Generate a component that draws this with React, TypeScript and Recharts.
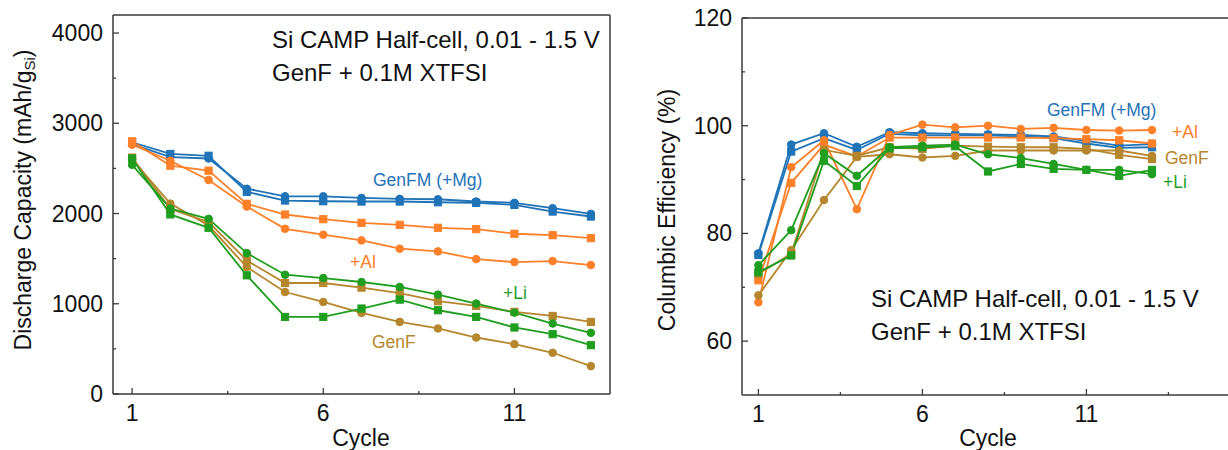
import { LineChart, Line, XAxis, YAxis, ReferenceLine } from 'recharts';

const cycles = [1, 2, 3, 4, 5, 6, 7, 8, 9, 10, 11, 12, 13];

// discharge capacity, mAh/g Si
const capMgCircle = [2770, 2625, 2610, 2275, 2191, 2191, 2173, 2162, 2158, 2133, 2118, 2059, 1996];
const capMgSquare = [2790, 2660, 2640, 2240, 2144, 2136, 2133, 2133, 2125, 2118, 2096, 2022, 1967];
const capAlCircle = [2762, 2585, 2372, 2077, 1831, 1765, 1702, 1610, 1580, 1495, 1462, 1473, 1429];
const capAlSquare = [2800, 2530, 2475, 2107, 1989, 1937, 1897, 1875, 1842, 1827, 1776, 1760, 1727];
const capLiCircle = [2540, 2055, 1941, 1561, 1322, 1285, 1241, 1186, 1101, 1002, 902, 781, 678];
const capLiSquare = [2610, 1990, 1842, 1315, 854, 854, 947, 1046, 928, 854, 737, 663, 541];
const capGenFCircle = [2600, 2110, 1867, 1407, 1130, 1020, 898, 799, 726, 626, 552, 457, 309];
const capGenFSquare = [2620, 2050, 1905, 1480, 1230, 1230, 1179, 1119, 1028, 976, 910, 865, 799];

// columbic efficiency, %
const ceMgCircle = [76.3, 96.5, 98.6, 96.1, 98.8, 98.6, 98.5, 98.4, 98.3, 98.0, 97.2, 96.3, 96.6];
const ceMgSquare = [76.0, 95.2, 97.7, 95.5, 98.5, 98.2, 98.2, 98.2, 98.0, 97.7, 96.7, 95.9, 96.0];
const ceAlCircle = [67.2, 92.3, 97.3, 84.5, 98.3, 100.2, 99.7, 100.0, 99.4, 99.6, 99.2, 99.1, 99.2];
const ceAlSquare = [71.3, 89.4, 96.5, 94.3, 97.8, 97.8, 97.8, 97.8, 97.8, 97.7, 97.5, 97.3, 96.7];
const ceLiCircle = [74.1, 80.6, 94.9, 90.7, 96.0, 96.3, 96.5, 94.7, 94.0, 92.9, 91.8, 91.8, 91.0];
const ceLiSquare = [72.8, 75.9, 93.5, 88.8, 95.8, 96.0, 96.2, 91.5, 92.9, 92.0, 91.8, 90.7, 91.8];
const ceGenFCircle = [68.5, 76.9, 86.2, 94.2, 94.7, 94.1, 94.4, 95.4, 95.4, 95.4, 95.4, 95.4, 94.4];
const ceGenFSquare = [72.5, 76.2, 95.5, 94.4, 96.0, 95.7, 96.3, 96.1, 96.0, 96.0, 95.7, 94.6, 93.8];

const capXTicks = [1, 3.5, 6, 8.5, 11];
const ceXTicks = [1, 3.5, 6, 8.5, 11, 13.5];
const xMajor = [1, 6, 11];
const capYTicks = [0, 500, 1000, 1500, 2000, 2500, 3000, 3500, 4000];
const capYMajor = [0, 1000, 2000, 3000, 4000];
const ceYTicks = [60, 70, 80, 90, 100, 110, 120];
const ceYMajor = [60, 80, 100, 120];

const BLUE = '#1f73b7';
const ORANGE = '#ff8028';
const GREEN = '#1f9e1f';
const BROWN = '#b5862c';
const AXIS = '#3a3a3a';
const INK = '#111';
const FONT = '"Liberation Sans", Arial, sans-serif';

const series = [
  { key: 'mgC', color: BLUE, square: false },
  { key: 'mgS', color: BLUE, square: true },
  { key: 'alC', color: ORANGE, square: false },
  { key: 'alS', color: ORANGE, square: true },
  { key: 'genfC', color: BROWN, square: false },
  { key: 'genfS', color: BROWN, square: true },
  { key: 'liC', color: GREEN, square: false },
  { key: 'liS', color: GREEN, square: true },
];

const capData = cycles.map((cycle, i) => ({
  cycle,
  mgC: capMgCircle[i], mgS: capMgSquare[i],
  alC: capAlCircle[i], alS: capAlSquare[i],
  liC: capLiCircle[i], liS: capLiSquare[i],
  genfC: capGenFCircle[i], genfS: capGenFSquare[i],
}));

const ceData = cycles.map((cycle, i) => ({
  cycle,
  mgC: ceMgCircle[i], mgS: ceMgSquare[i],
  alC: ceAlCircle[i], alS: ceAlSquare[i],
  liC: ceLiCircle[i], liS: ceLiSquare[i],
  genfC: ceGenFCircle[i], genfS: ceGenFSquare[i],
}));

const squareDot = (color: string) => (p: any) => (
  <rect key={p.key ?? `sq-${p.index}`} x={p.cx - 3.6} y={p.cy - 3.6} width={7.2} height={7.2} fill={color} stroke={color} />
);

const xTick = (major: number[]) => (p: any) => {
  const isMajor = major.includes(p.payload.value);
  return (
    <g>
      <line x1={p.x} x2={p.x} y1={p.y} y2={p.y - (isMajor ? 6 : 3)} stroke={AXIS} strokeWidth={1.3} />
      {isMajor && (
        <text x={p.x} y={p.y + 19} textAnchor="middle" dominantBaseline="central" fontSize={23} fill={INK} fontFamily={FONT}>
          {p.payload.value}
        </text>
      )}
    </g>
  );
};

const yTick = (major: number[]) => (p: any) => {
  const isMajor = major.includes(p.payload.value);
  return (
    <g>
      <line x1={p.x} x2={p.x + (isMajor ? 6 : 3)} y1={p.y} y2={p.y} stroke={AXIS} strokeWidth={1.3} />
      {isMajor && (
        <text x={p.x - 10} y={p.y} textAnchor="end" dominantBaseline="central" fontSize={23} fill={INK} fontFamily={FONT}>
          {p.payload.value}
        </text>
      )}
    </g>
  );
};

function Lines() {
  return series.map((s) => (
    <Line
      key={s.key}
      dataKey={s.key}
      type="linear"
      stroke={s.color}
      strokeWidth={1.8}
      dot={s.square ? squareDot(s.color) : { r: 3.8, fill: s.color, stroke: s.color, strokeWidth: 1 }}
      activeDot={false}
      isAnimationActive={false}
    />
  ));
}

export default function App() {
  return (
    <div style={{ position: 'absolute', left: 0, top: 0, width: 1228, height: 450, overflow: 'hidden', background: '#fff', fontFamily: FONT }}>
      <div style={{ position: 'absolute', left: 0, top: 0 }}>
        <LineChart width={615} height={450} data={capData} margin={{ top: 15, right: 5, bottom: 26, left: 53 }}>
          <XAxis dataKey="cycle" type="number" domain={[0.5, 13.5]} ticks={capXTicks} interval={0} height={30}
            tickSize={0} tickMargin={0} tickLine={false} axisLine={{ stroke: AXIS, strokeWidth: 1.5 }} tick={xTick(xMajor)} />
          <YAxis type="number" domain={[0, 4200]} ticks={capYTicks} interval={0} width={60}
            tickSize={0} tickMargin={0} tickLine={false} axisLine={{ stroke: AXIS, strokeWidth: 1.5 }} tick={yTick(capYMajor)} />
          <ReferenceLine y={4200} stroke={AXIS} strokeWidth={1.5} />
          <ReferenceLine x={13.5} stroke={AXIS} strokeWidth={1.5} />
          {Lines()}
        </LineChart>
      </div>
      <div style={{ position: 'absolute', left: 630, top: 0 }}>
        <LineChart width={620} height={450} data={ceData} margin={{ top: 18, right: 16, bottom: 25, left: 52 }}>
          <XAxis dataKey="cycle" type="number" domain={[0.5, 15.5]} ticks={ceXTicks} interval={0} height={30}
            tickSize={0} tickMargin={0} tickLine={false} axisLine={{ stroke: AXIS, strokeWidth: 1.5 }} tick={xTick(xMajor)} />
          <YAxis type="number" domain={[50, 120]} ticks={ceYTicks} interval={0} width={60}
            tickSize={0} tickMargin={0} tickLine={false} axisLine={{ stroke: AXIS, strokeWidth: 1.5 }} tick={yTick(ceYMajor)} />
          <ReferenceLine y={120} stroke={AXIS} strokeWidth={1.5} />
          {Lines()}
        </LineChart>
      </div>
      <svg width={1228} height={450} style={{ position: 'absolute', left: 0, top: 0, pointerEvents: 'none' }} fontFamily={FONT}>
        <g fill={INK} fontSize={24}>
          <text x={272} y={39} dominantBaseline="central">Si CAMP Half-cell, 0.01 - 1.5 V</text>
          <text x={272} y={72} dominantBaseline="central">GenF + 0.1M XTFSI</text>
          <text x={871} y={298} dominantBaseline="central">Si CAMP Half-cell, 0.01 - 1.5 V</text>
          <text x={871} y={331} dominantBaseline="central">GenF + 0.1M XTFSI</text>
        </g>
        <g fill={INK} fontSize={23}>
          <text x={361} y={438} textAnchor="middle" dominantBaseline="central">Cycle</text>
          <text x={988} y={438} textAnchor="middle" dominantBaseline="central">Cycle</text>
          <text transform="translate(23,200) rotate(-90)" textAnchor="middle" dominantBaseline="central">
            Discharge Capacity (mAh/g<tspan fontSize={15} dy={6}>Si</tspan><tspan dy={-6}>)</tspan>
          </text>
          <text transform="translate(667,210) rotate(-90)" textAnchor="middle" dominantBaseline="central">
            Columbic Efficiency (%)
          </text>
        </g>
        <g fontSize={17.5} dominantBaseline="central">
          <text x={373} y={180} fill={BLUE} dominantBaseline="central">GenFM (+Mg)</text>
          <text x={350} y={262} fill={ORANGE} dominantBaseline="central">+Al</text>
          <text x={503} y={293} fill={GREEN} dominantBaseline="central">+Li</text>
          <text x={372} y={342} fill={BROWN} dominantBaseline="central">GenF</text>
          <text x={1047} y={110} fill={BLUE} dominantBaseline="central">GenFM (+Mg)</text>
          <text x={1172} y={132} fill={ORANGE} dominantBaseline="central">+Al</text>
          <text x={1165} y={158} fill={BROWN} dominantBaseline="central">GenF</text>
          <text x={1163} y={182} fill={GREEN} dominantBaseline="central">+Li</text>
        </g>
      </svg>
    </div>
  );
}
